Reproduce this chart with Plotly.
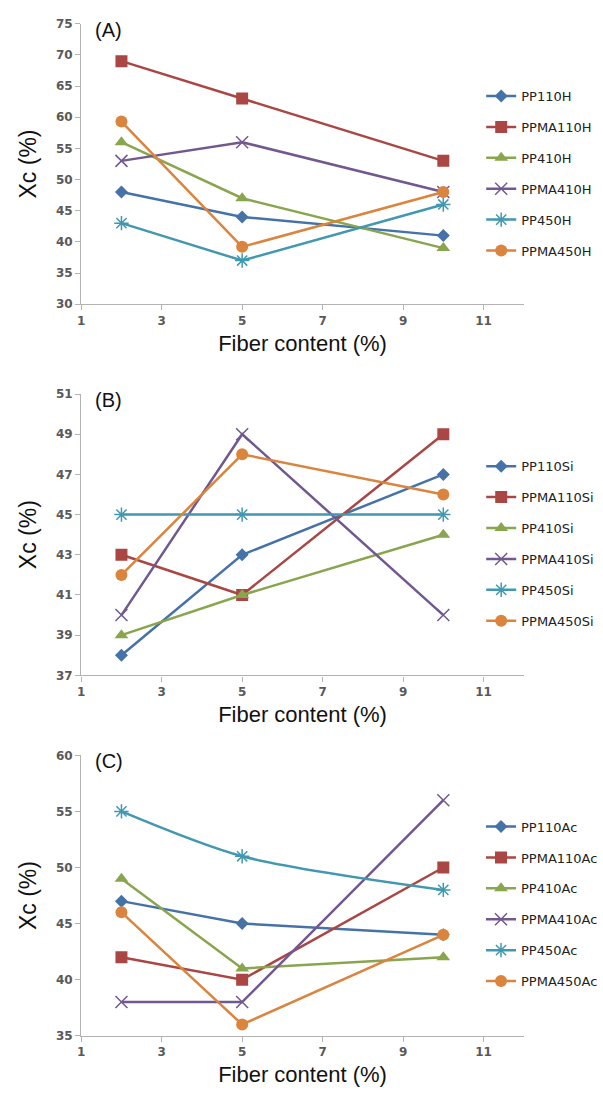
import plotly.graph_objects as go

fiber = [2, 5, 10]

names_a = ["PP110H", "PPMA110H", "PP410H", "PPMA410H", "PP450H", "PPMA450H"]
vals_a = [
    [48, 44, 41],
    [69, 63, 53],
    [56, 47, 39],
    [53, 56, 48],
    [43, 37, 46],
    [59.3, 39.2, 48],
]

names_b = ["PP110Si", "PPMA110Si", "PP410Si", "PPMA410Si", "PP450Si", "PPMA450Si"]
vals_b = [
    [38, 43, 47],
    [43, 41, 49],
    [39, 41, 44],
    [40, 49, 40],
    [45, 45, 45],
    [42, 48, 46],
]

names_c = ["PP110Ac", "PPMA110Ac", "PP410Ac", "PPMA410Ac", "PP450Ac", "PPMA450Ac"]
vals_c = [
    [47, 45, 44],
    [42, 40, 50],
    [49, 41, 42],
    [38, 38, 56],
    [55, 51, 48],
    [46, 36, 44],
]

panel_labels = ["(A)", "(B)", "(C)"]
y_ranges = [[30, 75], [37, 51], [35, 60]]
y_dticks = [5, 2, 5]
x_ticks = [1, 3, 5, 7, 9, 11]

colors = ["#4572A7", "#AA4643", "#89A54E", "#71588F", "#4198AF", "#DB843D"]
symbols = ["diamond", "square", "triangle-up", "x-thin", "asterisk", "circle"]
msizes = [10, 12, 12, 12, 12, 12]

W, H = 603, 1099
px_rows = [(17, 301), (392, 677), (758, 1042)]
x0_px, x1_px = 78, 525
legend_top_px = [75, 450, 815]

fig = go.Figure()

panels = [(names_a, vals_a), (names_b, vals_b), (names_c, vals_c)]
for p, (names, vals) in enumerate(panels):
    xa = "x" if p == 0 else f"x{p+1}"
    ya = "y" if p == 0 else f"y{p+1}"
    lg = "legend" if p == 0 else f"legend{p+1}"
    for i, (nm, v) in enumerate(zip(names, vals)):
        shape = "spline" if (p == 2 and i == 4) else "linear"
        is_open = symbols[i] in ("x-thin", "asterisk")
        fig.add_trace(go.Scatter(
            x=fiber, y=v, name=nm, mode="lines+markers",
            xaxis=xa, yaxis=ya, legend=lg, legendgroup=f"{p}-{i}",
            line=dict(color=colors[i], width=2.5, shape=shape, smoothing=0.8),
            marker=dict(symbol=symbols[i], size=msizes[i], color=colors[i],
                        line=dict(color=colors[i], width=1.5 if is_open else 0)),
        ))

layout = dict(
    width=W, height=H, margin=dict(l=0, r=0, t=0, b=0),
    paper_bgcolor="white", plot_bgcolor="white",
    font=dict(family="Liberation Sans, Arial, sans-serif", color="#222"),
    showlegend=True,
)

annotations = []
tickfont = dict(family="DejaVu Sans", size=12, color="#595959", weight="bold")
for p in range(3):
    top, bot = px_rows[p]
    sfx = "" if p == 0 else str(p + 1)
    layout[f"xaxis{sfx}"] = dict(
        domain=[x0_px / W, x1_px / W], anchor=f"y{sfx}", range=[1, 12],
        tickvals=x_ticks, showline=True, linecolor="#b3b3b3", linewidth=1.3,
        ticks="outside", ticklen=5, tickcolor="#b3b3b3", showgrid=False,
        zeroline=False, tickfont=tickfont,
        title=dict(text="Fiber content (%)", font=dict(size=22, color="#111"), standoff=8),
    )
    layout[f"yaxis{sfx}"] = dict(
        domain=[1 - bot / H, 1 - top / H], anchor=f"x{sfx}", range=y_ranges[p],
        tick0=y_ranges[p][0], dtick=y_dticks[p], showline=True, linecolor="#b3b3b3",
        linewidth=1.3, ticks="outside", ticklen=5, tickcolor="#b3b3b3", showgrid=False,
        zeroline=False, tickfont=tickfont,
        title=dict(text="Xc (%)", font=dict(size=23, color="#111"), standoff=12),
    )
    lgname = "legend" if p == 0 else f"legend{p+1}"
    layout[lgname] = dict(
        x=482 / W, xanchor="left", y=1 - legend_top_px[p] / H, yanchor="top",
        font=dict(family="DejaVu Sans", size=13, color="#222"),
        traceorder="grouped", tracegroupgap=11, bgcolor="rgba(0,0,0,0)",
        itemwidth=30,
    )
    annotations.append(dict(
        text=panel_labels[p], xref="paper", yref="paper",
        x=90 / W, y=1 - (top + 6) / H, xanchor="left", yanchor="middle",
        showarrow=False, font=dict(size=20, color="#111"),
    ))

layout["annotations"] = annotations
fig.update_layout(**layout)
fig.write_html(
    "out.html",
    config={"displayModeBar": False},
    post_script="document.body.style.margin='0';document.body.style.overflow='hidden';",
)
